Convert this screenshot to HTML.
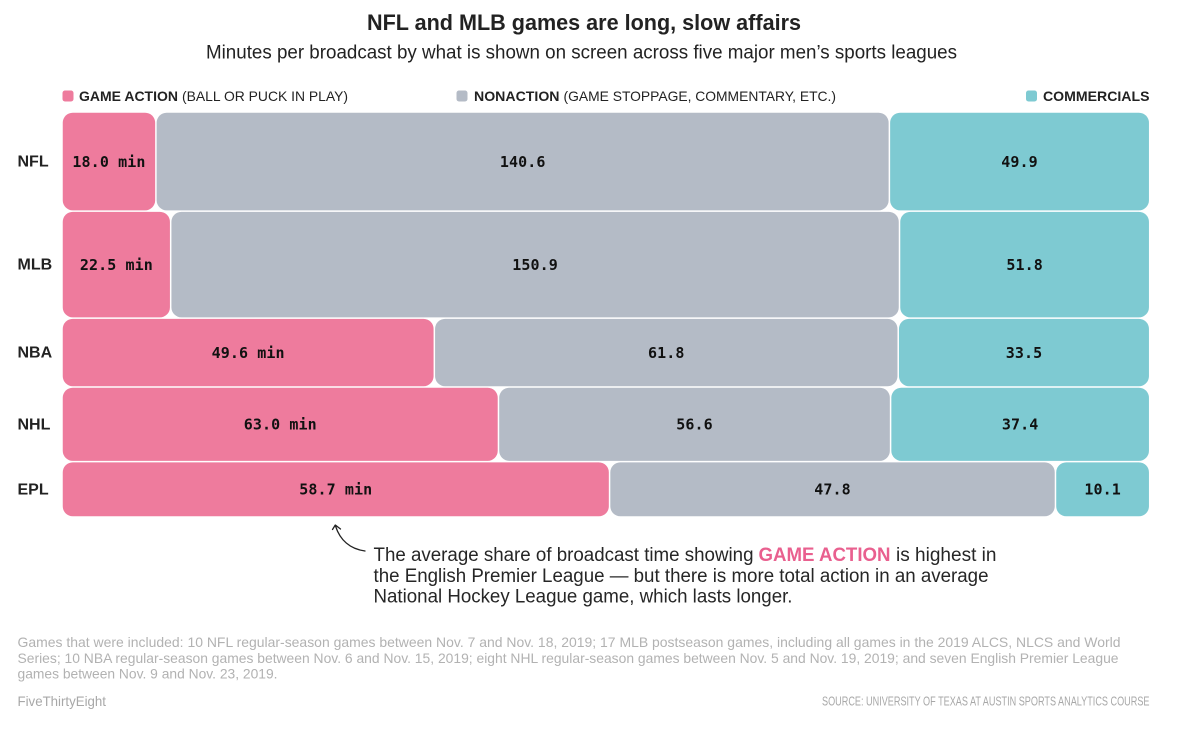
<!DOCTYPE html>
<html lang="en">
<head>
<meta charset="utf-8">
<title>NFL and MLB games are long, slow affairs</title>
<style>
html,body{margin:0;padding:0;background:#fff;width:1200px;height:734px;overflow:hidden}
svg{display:block}
text{font-family:"Liberation Sans",sans-serif;fill:#222}
.legend{font-size:14px}
.legend-b{font-size:14px;font-weight:bold}
.row{font-size:16px;font-weight:bold}
.val{font-family:"DejaVu Sans Mono","Liberation Mono",monospace;font-size:15px;font-weight:bold;fill:#111;text-anchor:middle}
.note{font-size:19px;fill:#262626}
.foot{font-size:14px;fill:#b2b2b2}
</style>
</head>
<body>
<svg id="chart" xmlns="http://www.w3.org/2000/svg" width="1200" height="734" viewBox="0 0 1200 734">
  <rect width="1200" height="734" fill="#fff"/>
  <text x="367" y="30" font-size="22" font-weight="bold" textLength="434" lengthAdjust="spacingAndGlyphs">NFL and MLB games are long, slow affairs</text>
  <text x="206" y="58.5" font-size="19" textLength="751" lengthAdjust="spacingAndGlyphs" fill="#333">Minutes per broadcast by what is shown on screen across five major men’s sports leagues</text>

  <g>
    <rect x="62.5" y="90.5" width="11" height="11" rx="2.5" fill="#ee7b9d"/>
    <text class="legend-b" x="79" y="101" textLength="99" lengthAdjust="spacingAndGlyphs">GAME ACTION</text>
    <text class="legend" x="182" y="101" textLength="166" lengthAdjust="spacingAndGlyphs" fill="#333">(BALL OR PUCK IN PLAY)</text>
    <rect x="456.5" y="90.5" width="11" height="11" rx="2.5" fill="#b4bbc6"/>
    <text class="legend-b" x="474" y="101" textLength="85.5" lengthAdjust="spacingAndGlyphs">NONACTION</text>
    <text class="legend" x="563.5" y="101" textLength="272.5" lengthAdjust="spacingAndGlyphs" fill="#333">(GAME STOPPAGE, COMMENTARY, ETC.)</text>
    <rect x="1026" y="90.5" width="11" height="11" rx="2.5" fill="#7ecad2"/>
    <text class="legend-b" x="1043" y="101" textLength="106.5" lengthAdjust="spacingAndGlyphs">COMMERCIALS</text>
  </g>

  <g id="plot"></g>

  <g>
    <path d="M365 551 C350 549 340 540 335.5 526" fill="none" stroke="#222" stroke-width="1.3" stroke-linecap="round"/>
    <path d="M332.5 529.5 L335.3 525 L340.5 529" fill="none" stroke="#222" stroke-width="1.3" stroke-linecap="round" stroke-linejoin="round"/>
    <text class="note" x="373.5" y="561" textLength="380" lengthAdjust="spacingAndGlyphs">The average share of broadcast time showing</text>
    <text x="758.5" y="561" font-size="19" font-weight="bold" style="fill:#e9608f" textLength="132" lengthAdjust="spacingAndGlyphs">GAME ACTION</text>
    <text class="note" x="896" y="561" textLength="100.5" lengthAdjust="spacingAndGlyphs">is highest in</text>
    <text class="note" x="373.5" y="582" textLength="615" lengthAdjust="spacingAndGlyphs">the English Premier League — but there is more total action in an average</text>
    <text class="note" x="373.5" y="602.5" textLength="419" lengthAdjust="spacingAndGlyphs">National Hockey League game, which lasts longer.</text>
  </g>

  <g>
    <text class="foot" x="17.5" y="647" textLength="1103" lengthAdjust="spacingAndGlyphs">Games that were included: 10 NFL regular-season games between Nov. 7 and Nov. 18, 2019; 17 MLB postseason games, including all games in the 2019 ALCS, NLCS and World</text>
    <text class="foot" x="17.5" y="663" textLength="1101" lengthAdjust="spacingAndGlyphs">Series; 10 NBA regular-season games between Nov. 6 and Nov. 15, 2019; eight NHL regular-season games between Nov. 5 and Nov. 19, 2019; and seven English Premier League</text>
    <text class="foot" x="17.5" y="678.5" textLength="260" lengthAdjust="spacingAndGlyphs">games between Nov. 9 and Nov. 23, 2019.</text>
    <text class="foot" x="17.5" y="706" textLength="88.5" lengthAdjust="spacingAndGlyphs" style="fill:#a8a8a8">FiveThirtyEight</text>
    <text x="822" y="705.5" font-size="12.5" style="fill:#a8a8a8" textLength="327.5" lengthAdjust="spacingAndGlyphs">SOURCE: UNIVERSITY OF TEXAS AT AUSTIN SPORTS ANALYTICS COURSE</text>
  </g>
</svg>
<script>
const leagues = ["NFL", "MLB", "NBA", "NHL", "EPL"];
const gameAction = [18.0, 22.5, 49.6, 63.0, 58.7];
const nonAction = [140.6, 150.9, 61.8, 56.6, 47.8];
const commercials = [49.9, 51.8, 33.5, 37.4, 10.1];

const seriesColors = ["#ee7b9d", "#b4bbc6", "#7ecad2"];
const seriesKeys = ["game-action", "nonaction", "commercials"];
const plot = { left: 62, right: 1149.7, top: 112, bottom: 517, gap: 0.75 };
const svgNS = "http://www.w3.org/2000/svg";
const plotGroup = document.getElementById("plot");

const rowTotals = leagues.map(function (_, i) {
  return gameAction[i] + nonAction[i] + commercials[i];
});
const grandTotal = rowTotals.reduce(function (a, b) { return a + b; }, 0);

function yScale(minutes) {
  return minutes / grandTotal * (plot.bottom - plot.top);
}
function xScale(share) {
  return plot.left + share * (plot.right - plot.left);
}

let rowTop = plot.top;
leagues.forEach(function (league, i) {
  const rowHeight = yScale(rowTotals[i]);
  const midY = rowTop + rowHeight / 2;
  const values = [gameAction[i], nonAction[i], commercials[i]];

  const rowLabel = document.createElementNS(svgNS, "text");
  
  
  rowLabel.setAttribute("class", "row");
  rowLabel.setAttribute("x", 17.5);
  rowLabel.setAttribute("y", midY + 5);
  rowLabel.textContent = league;
  plotGroup.appendChild(rowLabel);

  let cumulative = 0;
  values.forEach(function (value, s) {
    const x0 = xScale(cumulative / rowTotals[i]);
    const x1 = xScale((cumulative + value) / rowTotals[i]);
    cumulative += value;

    const cell = document.createElementNS(svgNS, "rect");
    
    
    cell.setAttribute("x", x0 + plot.gap);
    cell.setAttribute("y", rowTop + plot.gap);
    cell.setAttribute("width", Math.max(0, x1 - x0 - 2 * plot.gap));
    cell.setAttribute("height", Math.max(0, rowHeight - 2 * plot.gap));
    cell.setAttribute("rx", 10);
    cell.setAttribute("fill", seriesColors[s]);
    plotGroup.appendChild(cell);

    const label = document.createElementNS(svgNS, "text");
    
    
    label.setAttribute("class", "val");
    label.setAttribute("x", (x0 + x1) / 2);
    label.setAttribute("y", midY + 5.3);
    label.setAttribute("letter-spacing", "0.1");
    label.textContent = value.toFixed(1) + (s === 0 ? " min" : "");
    plotGroup.appendChild(label);
  });

  rowTop += rowHeight;
});
</script>
</body>
</html>
